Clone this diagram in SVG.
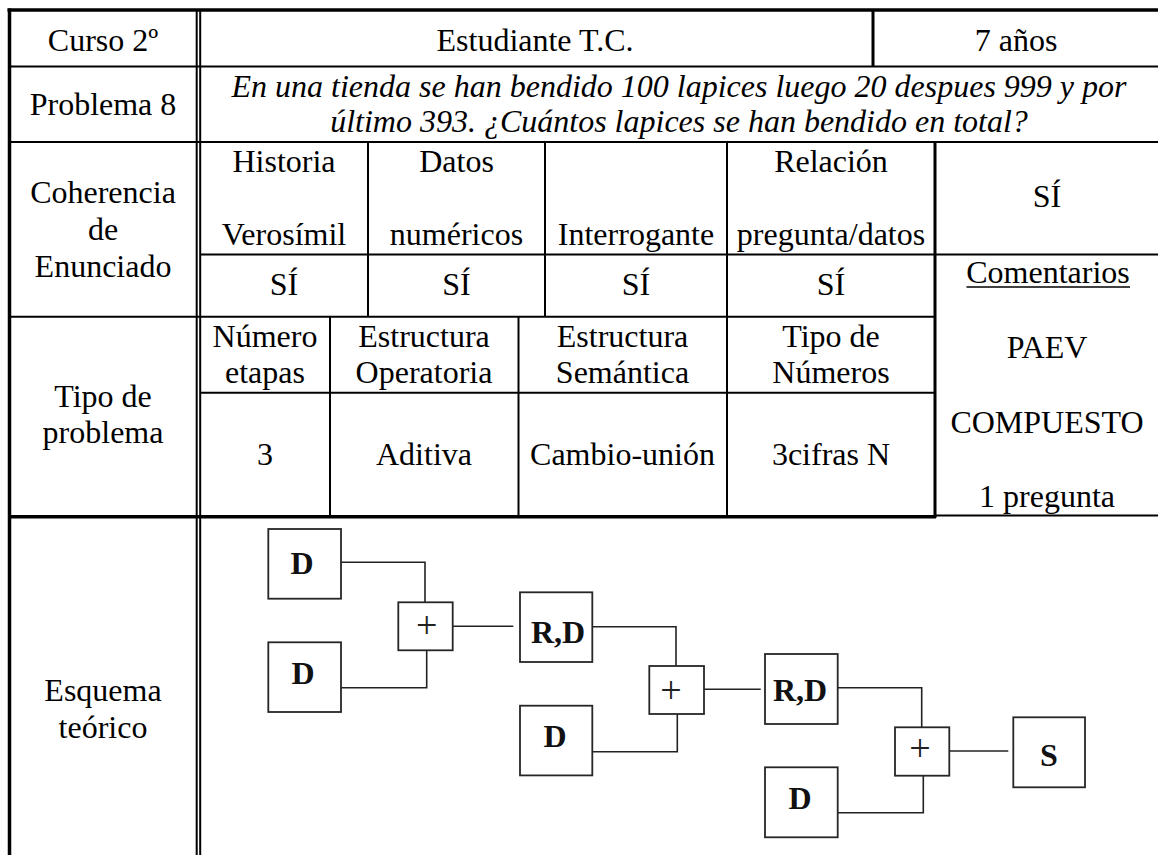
<svg xmlns="http://www.w3.org/2000/svg" width="1158" height="855" viewBox="0 0 1158 855">
<style>
text{font-family:"Liberation Serif","Times New Roman",serif;font-size:32px;fill:#000;text-anchor:middle}
.it{font-style:italic}
.b{font-weight:bold;font-size:32px;fill:#111}
.pl{font-size:38px;fill:#222}
.thin{stroke:#000;stroke-width:2;fill:none}
.thick{stroke:#000;stroke-width:3.5;fill:none}
.mid{stroke:#000;stroke-width:3;fill:none}
.box{fill:#fff;stroke:#262626;stroke-width:1.8}
.con{fill:none;stroke:#222;stroke-width:1.6}
</style>
<rect width="1158" height="855" fill="#fff"/>
<g id="grid">
  <line class="thick" x1="7.5" y1="10" x2="1160" y2="10"/>
  <line class="thick" x1="9.5" y1="8.5" x2="9.5" y2="855"/>
  <line class="thin" x1="196.7" y1="11" x2="196.7" y2="855" stroke-width="1.8"/>
  <line class="thin" x1="200.2" y1="11" x2="200.2" y2="855" stroke-width="1.8"/>
  <line class="mid" x1="873" y1="11" x2="873" y2="66.5"/>
  <line class="thin" x1="10" y1="66.5" x2="1160" y2="66.5"/>
  <line class="thin" x1="10" y1="142" x2="1160" y2="142"/>
  <line class="thin" x1="200" y1="254.5" x2="1160" y2="254.5"/>
  <line class="thin" x1="10" y1="316.7" x2="935" y2="316.7"/>
  <line class="thin" x1="200" y1="392.7" x2="935" y2="392.7"/>
  <line class="thick" x1="10" y1="516.7" x2="936" y2="516.7"/>
  <line class="thin" x1="935" y1="515.5" x2="1160" y2="515.5"/>
  <line class="thin" x1="368" y1="142" x2="368" y2="316.7"/>
  <line class="thin" x1="545" y1="142" x2="545" y2="316.7"/>
  <line class="thin" x1="727" y1="142" x2="727" y2="516.7"/>
  <line class="mid" x1="935" y1="142" x2="935" y2="518"/>
  <line class="thin" x1="330" y1="316.7" x2="330" y2="516.7"/>
  <line class="thin" x1="518.5" y1="316.7" x2="518.5" y2="516.7"/>
  <line x1="966.5" y1="287" x2="1130" y2="287" stroke="#000" stroke-width="1.6"/>
</g>
<g id="cells">
  <text x="103" y="50.5">Curso 2º</text>
  <text x="535" y="50.5">Estudiante T.C.</text>
  <text x="1016" y="50.5">7 años</text>
  <text x="103" y="115">Problema 8</text>
  <text class="it" x="679" y="96.7">En una tienda se han bendido 100 lapices luego 20 despues 999 y por</text>
  <text class="it" x="679" y="131.7">último 393. ¿Cuántos lapices se han bendido en total?</text>
  <text x="103" y="203.3">Coherencia</text>
  <text x="103" y="240">de</text>
  <text x="103" y="276.7">Enunciado</text>
  <text x="284" y="171.7">Historia</text>
  <text x="284" y="245">Verosímil</text>
  <text x="456.5" y="171.7">Datos</text>
  <text x="456.5" y="245">numéricos</text>
  <text x="636" y="245">Interrogante</text>
  <text x="831" y="171.7">Relación</text>
  <text x="831" y="245">pregunta/datos</text>
  <text x="1047" y="206.7">SÍ</text>
  <text x="284" y="295">SÍ</text>
  <text x="456.5" y="295">SÍ</text>
  <text x="636" y="295">SÍ</text>
  <text x="831" y="295">SÍ</text>
  <text x="1048" y="283.3">Comentarios</text>
  <text x="265" y="346.7">Número</text>
  <text x="265" y="383.3">etapas</text>
  <text x="424" y="346.7">Estructura</text>
  <text x="424" y="383.3">Operatoria</text>
  <text x="622.5" y="346.7">Estructura</text>
  <text x="622.5" y="383.3">Semántica</text>
  <text x="831" y="346.7">Tipo de</text>
  <text x="831" y="383.3">Números</text>
  <text x="1047" y="358.3">PAEV</text>
  <text x="103" y="406.7">Tipo de</text>
  <text x="103" y="443.3">problema</text>
  <text x="265" y="465">3</text>
  <text x="424" y="465">Aditiva</text>
  <text x="622.5" y="465">Cambio-unión</text>
  <text x="831" y="465">3cifras N</text>
  <text x="1047" y="432.7">COMPUESTO</text>
  <text x="1047" y="506.7">1 pregunta</text>
  <text x="103" y="701">Esquema</text>
  <text x="103" y="738">teórico</text>
</g>
<g id="connectors">
  <polyline class="con" points="338,562.3 425,562.3 425,602.5"/>
  <polyline class="con" points="341,687.7 426.7,687.7 426.7,650.3"/>
  <line class="con" x1="452.7" y1="626.3" x2="513.3" y2="626.3"/>
  <polyline class="con" points="593,626.7 676,626.7 676,666"/>
  <polyline class="con" points="592,751.7 677.3,751.7 677.3,714"/>
  <line class="con" x1="704" y1="689.3" x2="760.7" y2="689.3"/>
  <polyline class="con" points="835,687.7 921.7,687.7 921.7,727.3"/>
  <polyline class="con" points="838,812.7 923.3,812.7 923.3,775.7"/>
  <line class="con" x1="949.3" y1="751" x2="1008.3" y2="751"/>
</g>
<g id="nodeD1"><rect class="box" x="268.3" y="529" width="72.7" height="69.7"/><text class="b" x="302" y="573.5">D</text></g>
<g id="nodeD2"><rect class="box" x="268.3" y="642.3" width="72.7" height="69.7"/><text class="b" x="303" y="683.5">D</text></g>
<g id="nodePlus1"><rect class="box" x="398.3" y="602.3" width="54.4" height="48"/><text class="pl" x="426.7" y="638">+</text></g>
<g id="nodeRD1"><rect class="box" x="520" y="592.3" width="72.3" height="69.7"/><text class="b" x="558" y="642.5">R,D</text></g>
<g id="nodeD3"><rect class="box" x="520" y="705.7" width="72.3" height="69.7"/><text class="b" x="555" y="747">D</text></g>
<g id="nodePlus2"><rect class="box" x="649.3" y="666" width="54.7" height="48"/><text class="pl" x="671" y="703">+</text></g>
<g id="nodeRD2"><rect class="box" x="765" y="654" width="72.7" height="70"/><text class="b" x="800" y="700.5">R,D</text></g>
<g id="nodeD4"><rect class="box" x="765" y="767.3" width="72.7" height="70"/><text class="b" x="800" y="808.5">D</text></g>
<g id="nodePlus3"><rect class="box" x="895" y="727.3" width="54.3" height="48.4"/><text class="pl" x="920" y="760.5">+</text></g>
<g id="nodeS"><rect class="box" x="1013.3" y="717.3" width="71.7" height="70"/><text class="b" x="1049" y="766">S</text></g>
</svg>
